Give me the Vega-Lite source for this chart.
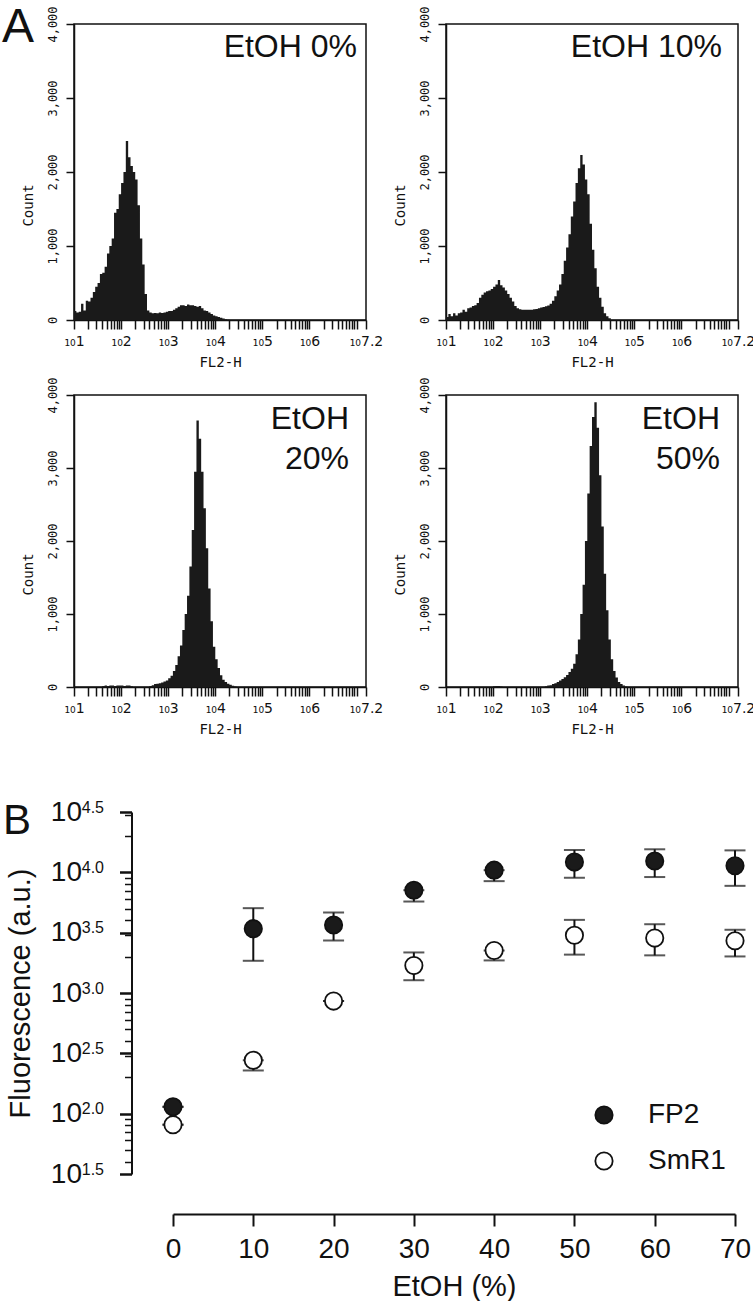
{
  "$schema": "https://vega.github.io/schema/vega-lite/v6.json",
  "padding": {"left": 1, "top": 3, "right": 0, "bottom": 0},
  "background": "white",
  "config": {
    "view": {"stroke": "#111", "strokeWidth": 1.5},
    "axis": {"grid": false, "labelColor": "#111", "titleColor": "#111", "tickColor": "#111", "domainColor": "#111", "titleFontWeight": "normal"},
    "text": {"color": "#111"}
  },
  "datasets": {
    "h0": [
      {"fl2h": 1.00, "count": 120}, {"fl2h": 1.05, "count": 100}, {"fl2h": 1.10, "count": 110}, {"fl2h": 1.15, "count": 220},
      {"fl2h": 1.20, "count": 130}, {"fl2h": 1.25, "count": 260}, {"fl2h": 1.30, "count": 250}, {"fl2h": 1.35, "count": 300},
      {"fl2h": 1.40, "count": 380}, {"fl2h": 1.45, "count": 450}, {"fl2h": 1.50, "count": 500}, {"fl2h": 1.55, "count": 620},
      {"fl2h": 1.60, "count": 640}, {"fl2h": 1.65, "count": 720}, {"fl2h": 1.70, "count": 900}, {"fl2h": 1.75, "count": 1000},
      {"fl2h": 1.80, "count": 1100}, {"fl2h": 1.85, "count": 1450}, {"fl2h": 1.90, "count": 1500}, {"fl2h": 1.95, "count": 1700},
      {"fl2h": 2.00, "count": 1850}, {"fl2h": 2.05, "count": 2000}, {"fl2h": 2.10, "count": 2420}, {"fl2h": 2.15, "count": 2200},
      {"fl2h": 2.20, "count": 2080}, {"fl2h": 2.25, "count": 2000}, {"fl2h": 2.30, "count": 1900}, {"fl2h": 2.35, "count": 1550},
      {"fl2h": 2.40, "count": 1100}, {"fl2h": 2.45, "count": 750}, {"fl2h": 2.50, "count": 350}, {"fl2h": 2.55, "count": 130},
      {"fl2h": 2.60, "count": 100}, {"fl2h": 2.65, "count": 90}, {"fl2h": 2.70, "count": 95}, {"fl2h": 2.75, "count": 90},
      {"fl2h": 2.80, "count": 100}, {"fl2h": 2.85, "count": 95}, {"fl2h": 2.90, "count": 100}, {"fl2h": 2.95, "count": 110},
      {"fl2h": 3.00, "count": 120}, {"fl2h": 3.05, "count": 120}, {"fl2h": 3.10, "count": 140}, {"fl2h": 3.15, "count": 160},
      {"fl2h": 3.20, "count": 180}, {"fl2h": 3.25, "count": 200}, {"fl2h": 3.30, "count": 200}, {"fl2h": 3.35, "count": 190},
      {"fl2h": 3.40, "count": 210}, {"fl2h": 3.45, "count": 200}, {"fl2h": 3.50, "count": 200}, {"fl2h": 3.55, "count": 190},
      {"fl2h": 3.60, "count": 180}, {"fl2h": 3.65, "count": 190}, {"fl2h": 3.70, "count": 160}, {"fl2h": 3.75, "count": 130},
      {"fl2h": 3.80, "count": 120}, {"fl2h": 3.85, "count": 100}, {"fl2h": 3.90, "count": 80}, {"fl2h": 3.95, "count": 60},
      {"fl2h": 4.00, "count": 50}, {"fl2h": 4.05, "count": 40}, {"fl2h": 4.10, "count": 30}, {"fl2h": 4.15, "count": 20},
      {"fl2h": 4.20, "count": 10}, {"fl2h": 4.25, "count": 5}, {"fl2h": 4.30, "count": 0}, {"fl2h": 7.20, "count": 0}
    ],
    "h10": [
      {"fl2h": 1.00, "count": 40}, {"fl2h": 1.05, "count": 80}, {"fl2h": 1.10, "count": 50}, {"fl2h": 1.15, "count": 90},
      {"fl2h": 1.20, "count": 60}, {"fl2h": 1.25, "count": 90}, {"fl2h": 1.30, "count": 100}, {"fl2h": 1.35, "count": 140},
      {"fl2h": 1.40, "count": 110}, {"fl2h": 1.45, "count": 160}, {"fl2h": 1.50, "count": 170}, {"fl2h": 1.55, "count": 190},
      {"fl2h": 1.60, "count": 200}, {"fl2h": 1.65, "count": 230}, {"fl2h": 1.70, "count": 300}, {"fl2h": 1.75, "count": 340},
      {"fl2h": 1.80, "count": 370}, {"fl2h": 1.85, "count": 390}, {"fl2h": 1.90, "count": 400}, {"fl2h": 1.95, "count": 420},
      {"fl2h": 2.00, "count": 450}, {"fl2h": 2.05, "count": 480}, {"fl2h": 2.10, "count": 540}, {"fl2h": 2.15, "count": 470},
      {"fl2h": 2.20, "count": 440}, {"fl2h": 2.25, "count": 400}, {"fl2h": 2.30, "count": 350}, {"fl2h": 2.35, "count": 300},
      {"fl2h": 2.40, "count": 250}, {"fl2h": 2.45, "count": 190}, {"fl2h": 2.50, "count": 160}, {"fl2h": 2.55, "count": 145},
      {"fl2h": 2.60, "count": 140}, {"fl2h": 2.65, "count": 140}, {"fl2h": 2.70, "count": 140}, {"fl2h": 2.75, "count": 140},
      {"fl2h": 2.80, "count": 140}, {"fl2h": 2.85, "count": 145}, {"fl2h": 2.90, "count": 150}, {"fl2h": 2.95, "count": 160},
      {"fl2h": 3.00, "count": 170}, {"fl2h": 3.05, "count": 175}, {"fl2h": 3.10, "count": 185}, {"fl2h": 3.15, "count": 195},
      {"fl2h": 3.20, "count": 220}, {"fl2h": 3.25, "count": 260}, {"fl2h": 3.30, "count": 320}, {"fl2h": 3.35, "count": 400},
      {"fl2h": 3.40, "count": 480}, {"fl2h": 3.45, "count": 620}, {"fl2h": 3.50, "count": 800}, {"fl2h": 3.55, "count": 980},
      {"fl2h": 3.60, "count": 1160}, {"fl2h": 3.65, "count": 1400}, {"fl2h": 3.70, "count": 1600}, {"fl2h": 3.75, "count": 1850},
      {"fl2h": 3.80, "count": 2050}, {"fl2h": 3.85, "count": 2230}, {"fl2h": 3.90, "count": 2100}, {"fl2h": 3.95, "count": 1900},
      {"fl2h": 4.00, "count": 1700}, {"fl2h": 4.05, "count": 1300}, {"fl2h": 4.10, "count": 950}, {"fl2h": 4.15, "count": 700},
      {"fl2h": 4.20, "count": 450}, {"fl2h": 4.25, "count": 300}, {"fl2h": 4.30, "count": 180}, {"fl2h": 4.35, "count": 90},
      {"fl2h": 4.40, "count": 50}, {"fl2h": 4.45, "count": 25}, {"fl2h": 4.50, "count": 0}, {"fl2h": 7.20, "count": 0}
    ],
    "h20": [
      {"fl2h": 1.00, "count": 0}, {"fl2h": 1.60, "count": 15}, {"fl2h": 1.65, "count": 20}, {"fl2h": 1.70, "count": 15},
      {"fl2h": 1.75, "count": 20}, {"fl2h": 1.80, "count": 20}, {"fl2h": 1.85, "count": 15}, {"fl2h": 1.90, "count": 20},
      {"fl2h": 1.95, "count": 20}, {"fl2h": 2.00, "count": 20}, {"fl2h": 2.05, "count": 15}, {"fl2h": 2.10, "count": 20},
      {"fl2h": 2.15, "count": 20}, {"fl2h": 2.20, "count": 10}, {"fl2h": 2.25, "count": 0}, {"fl2h": 2.60, "count": 15},
      {"fl2h": 2.65, "count": 25}, {"fl2h": 2.70, "count": 40}, {"fl2h": 2.75, "count": 45}, {"fl2h": 2.80, "count": 50},
      {"fl2h": 2.85, "count": 60}, {"fl2h": 2.90, "count": 75}, {"fl2h": 2.95, "count": 90}, {"fl2h": 3.00, "count": 120},
      {"fl2h": 3.05, "count": 155}, {"fl2h": 3.10, "count": 220}, {"fl2h": 3.15, "count": 300}, {"fl2h": 3.20, "count": 420},
      {"fl2h": 3.25, "count": 570}, {"fl2h": 3.30, "count": 780}, {"fl2h": 3.35, "count": 1000}, {"fl2h": 3.40, "count": 1250},
      {"fl2h": 3.45, "count": 1650}, {"fl2h": 3.50, "count": 2150}, {"fl2h": 3.55, "count": 2950}, {"fl2h": 3.60, "count": 3650},
      {"fl2h": 3.65, "count": 3400}, {"fl2h": 3.70, "count": 2950}, {"fl2h": 3.75, "count": 2450}, {"fl2h": 3.80, "count": 1900},
      {"fl2h": 3.85, "count": 1350}, {"fl2h": 3.90, "count": 900}, {"fl2h": 3.95, "count": 550}, {"fl2h": 4.00, "count": 380},
      {"fl2h": 4.05, "count": 260}, {"fl2h": 4.10, "count": 160}, {"fl2h": 4.15, "count": 100}, {"fl2h": 4.20, "count": 70},
      {"fl2h": 4.25, "count": 45}, {"fl2h": 4.30, "count": 30}, {"fl2h": 4.35, "count": 18}, {"fl2h": 4.40, "count": 8},
      {"fl2h": 4.45, "count": 0}, {"fl2h": 7.20, "count": 0}
    ],
    "h50": [
      {"fl2h": 1.00, "count": 0}, {"fl2h": 2.00, "count": 10}, {"fl2h": 2.05, "count": 15}, {"fl2h": 2.10, "count": 12},
      {"fl2h": 2.15, "count": 8}, {"fl2h": 2.20, "count": 0}, {"fl2h": 3.10, "count": 10}, {"fl2h": 3.15, "count": 20},
      {"fl2h": 3.20, "count": 25}, {"fl2h": 3.25, "count": 40}, {"fl2h": 3.30, "count": 50}, {"fl2h": 3.35, "count": 70},
      {"fl2h": 3.40, "count": 90}, {"fl2h": 3.45, "count": 110}, {"fl2h": 3.50, "count": 135}, {"fl2h": 3.55, "count": 165},
      {"fl2h": 3.60, "count": 205}, {"fl2h": 3.65, "count": 250}, {"fl2h": 3.70, "count": 320}, {"fl2h": 3.75, "count": 450},
      {"fl2h": 3.80, "count": 650}, {"fl2h": 3.85, "count": 1000}, {"fl2h": 3.90, "count": 1400}, {"fl2h": 3.95, "count": 2000},
      {"fl2h": 4.00, "count": 2650}, {"fl2h": 4.05, "count": 3300}, {"fl2h": 4.10, "count": 3700}, {"fl2h": 4.15, "count": 3900},
      {"fl2h": 4.20, "count": 3550}, {"fl2h": 4.25, "count": 2900}, {"fl2h": 4.30, "count": 2200}, {"fl2h": 4.35, "count": 1550},
      {"fl2h": 4.40, "count": 1050}, {"fl2h": 4.45, "count": 650}, {"fl2h": 4.50, "count": 380}, {"fl2h": 4.55, "count": 220},
      {"fl2h": 4.60, "count": 130}, {"fl2h": 4.65, "count": 70}, {"fl2h": 4.70, "count": 40}, {"fl2h": 4.75, "count": 20},
      {"fl2h": 4.80, "count": 8}, {"fl2h": 4.85, "count": 0}, {"fl2h": 7.20, "count": 0}
    ],
    "fluor": [
      {"etoh": 0, "series": "FP2", "mean": 114, "lo": 114, "hi": 114},
      {"etoh": 10, "series": "FP2", "mean": 3412, "lo": 1849, "hi": 5047},
      {"etoh": 20, "series": "FP2", "mean": 3664, "lo": 2729, "hi": 4645},
      {"etoh": 30, "series": "FP2", "mean": 7112, "lo": 5728, "hi": 7112},
      {"etoh": 40, "series": "FP2", "mean": 10423, "lo": 8453, "hi": 10423},
      {"etoh": 50, "series": "FP2", "mean": 12162, "lo": 9016, "hi": 15311},
      {"etoh": 60, "series": "FP2", "mean": 12417, "lo": 9141, "hi": 15524},
      {"etoh": 70, "series": "FP2", "mean": 11350, "lo": 7727, "hi": 15205},
      {"etoh": 0, "series": "SmR1", "mean": 81, "lo": 81, "hi": 81},
      {"etoh": 10, "series": "SmR1", "mean": 277, "lo": 228, "hi": 277},
      {"etoh": 20, "series": "SmR1", "mean": 857, "lo": 857, "hi": 857},
      {"etoh": 30, "series": "SmR1", "mean": 1687, "lo": 1276, "hi": 2168},
      {"etoh": 40, "series": "SmR1", "mean": 2249, "lo": 1862, "hi": 2249},
      {"etoh": 50, "series": "SmR1", "mean": 3013, "lo": 2080, "hi": 4036},
      {"etoh": 60, "series": "SmR1", "mean": 2851, "lo": 2051, "hi": 3715},
      {"etoh": 70, "series": "SmR1", "mean": 2710, "lo": 2009, "hi": 3342}
    ]
  },
  "columns": 2,
  "bounds": "flush",
  "align": "each",
  "spacing": {"row": 75, "column": 80},
  "resolve": {"scale": {"fill": "independent"}, "legend": {"fill": "independent"}},
  "concat": [
    {
      "width": 292, "height": 296,
      "resolve": {"axis": {"x": "independent"}},
      "layer": [
        {
          "data": {"name": "h0"},
          "mark": {"type": "area", "interpolate": "step-after", "color": "#1a1a1a"},
          "encoding": {
            "x": {"field": "fl2h", "type": "quantitative", "scale": {"domain": [1, 7.2], "nice": false, "zero": false},
              "axis": {"orient": "bottom", "values": [1, 2, 3, 4, 5, 6, 7.2], "labelExpr": "'₁₀' + datum.value",
                "labelOverlap": false, "labelFlush": false, "labelFont": "DejaVu Sans", "labelFontSize": 14, "labelBaseline": "alphabetic", "labelPadding": 16,
                "tickSize": 9, "tickWidth": 1.5, "domainWidth": 1.5,
                "title": "FL2-H", "titleFont": "DejaVu Sans Mono", "titleFontSize": 14, "titleY": 42, "titleBaseline": "middle"}},
            "y": {"field": "count", "type": "quantitative", "scale": {"domain": [0, 4000], "nice": false},
              "axis": {"values": [0, 1000, 2000, 3000, 4000], "labelExpr": "format(datum.value, ',')", "labelAngle": 270, "labelAlign": "center", "labelBaseline": "bottom", "labelPadding": 7,
                "labelFont": "DejaVu Sans Mono", "labelFontSize": 12, "labelFlush": false, "labelOverlap": false, "tickSize": 8, "tickWidth": 1.5, "domainWidth": 1.5,
                "title": "Count", "titleFont": "DejaVu Sans Mono", "titleFontSize": 14, "titleAngle": 270, "titleX": -46, "titleY": 181, "titleBaseline": "middle"}}
          }
        },
        {
          "data": {"values": [{"label": "EtOH 0%"}]},
          "mark": {"type": "text", "align": "right", "baseline": "alphabetic", "dx": -9, "dy": 33, "font": "Liberation Sans", "fontSize": 32},
          "encoding": {"text": {"field": "label"},
            "x": {"datum": 7.2, "axis": {"orient": "bottom", "values": [1.301,1.477,1.602,1.699,1.778,1.845,1.903,1.954,2.301,2.477,2.602,2.699,2.778,2.845,2.903,2.954,3.301,3.477,3.602,3.699,3.778,3.845,3.903,3.954,4.301,4.477,4.602,4.699,4.778,4.845,4.903,4.954,5.301,5.477,5.602,5.699,5.778,5.845,5.903,5.954,6.301,6.477,6.602,6.699,6.778,6.845,6.903,6.954,7],
              "labels": false, "domain": false, "title": null, "tickSize": 9, "tickWidth": 1.5}},
            "y": {"datum": 4000}}
        },
        {
          "data": {"values": [{"panel": "A"}]},
          "mark": {"type": "text", "align": "left", "baseline": "alphabetic", "dx": -72, "dy": 18, "font": "Liberation Sans", "fontSize": 48},
          "encoding": {"text": {"field": "panel"}, "x": {"datum": 1, "axis": null}, "y": {"datum": 4000}}
        }
      ]
    },
    {
      "width": 292, "height": 296,
      "resolve": {"axis": {"x": "independent"}},
      "layer": [
        {
          "data": {"name": "h10"},
          "mark": {"type": "area", "interpolate": "step-after", "color": "#1a1a1a"},
          "encoding": {
            "x": {"field": "fl2h", "type": "quantitative", "scale": {"domain": [1, 7.2], "nice": false, "zero": false},
              "axis": {"orient": "bottom", "values": [1, 2, 3, 4, 5, 6, 7.2], "labelExpr": "'₁₀' + datum.value",
                "labelOverlap": false, "labelFlush": false, "labelFont": "DejaVu Sans", "labelFontSize": 14, "labelBaseline": "alphabetic", "labelPadding": 16,
                "tickSize": 9, "tickWidth": 1.5, "domainWidth": 1.5,
                "title": "FL2-H", "titleFont": "DejaVu Sans Mono", "titleFontSize": 14, "titleY": 42, "titleBaseline": "middle"}},
            "y": {"field": "count", "type": "quantitative", "scale": {"domain": [0, 4000], "nice": false},
              "axis": {"values": [0, 1000, 2000, 3000, 4000], "labelExpr": "format(datum.value, ',')", "labelAngle": 270, "labelAlign": "center", "labelBaseline": "bottom", "labelPadding": 7,
                "labelFont": "DejaVu Sans Mono", "labelFontSize": 12, "labelFlush": false, "labelOverlap": false, "tickSize": 8, "tickWidth": 1.5, "domainWidth": 1.5,
                "title": "Count", "titleFont": "DejaVu Sans Mono", "titleFontSize": 14, "titleAngle": 270, "titleX": -46, "titleY": 181, "titleBaseline": "middle"}}
          }
        },
        {
          "data": {"values": [{"label": "EtOH 10%"}]},
          "mark": {"type": "text", "align": "right", "baseline": "alphabetic", "dx": -16, "dy": 33, "font": "Liberation Sans", "fontSize": 32},
          "encoding": {"text": {"field": "label"},
            "x": {"datum": 7.2, "axis": {"orient": "bottom", "values": [1.301,1.477,1.602,1.699,1.778,1.845,1.903,1.954,2.301,2.477,2.602,2.699,2.778,2.845,2.903,2.954,3.301,3.477,3.602,3.699,3.778,3.845,3.903,3.954,4.301,4.477,4.602,4.699,4.778,4.845,4.903,4.954,5.301,5.477,5.602,5.699,5.778,5.845,5.903,5.954,6.301,6.477,6.602,6.699,6.778,6.845,6.903,6.954,7],
              "labels": false, "domain": false, "title": null, "tickSize": 9, "tickWidth": 1.5}},
            "y": {"datum": 4000}}
        }
      ]
    },
    {
      "width": 292, "height": 292,
      "resolve": {"axis": {"x": "independent"}},
      "layer": [
        {
          "data": {"name": "h20"},
          "mark": {"type": "area", "interpolate": "step-after", "color": "#1a1a1a"},
          "encoding": {
            "x": {"field": "fl2h", "type": "quantitative", "scale": {"domain": [1, 7.2], "nice": false, "zero": false},
              "axis": {"orient": "bottom", "values": [1, 2, 3, 4, 5, 6, 7.2], "labelExpr": "'₁₀' + datum.value",
                "labelOverlap": false, "labelFlush": false, "labelFont": "DejaVu Sans", "labelFontSize": 14, "labelBaseline": "alphabetic", "labelPadding": 16,
                "tickSize": 9, "tickWidth": 1.5, "domainWidth": 1.5,
                "title": "FL2-H", "titleFont": "DejaVu Sans Mono", "titleFontSize": 14, "titleY": 42, "titleBaseline": "middle"}},
            "y": {"field": "count", "type": "quantitative", "scale": {"domain": [0, 4000], "nice": false},
              "axis": {"values": [0, 1000, 2000, 3000, 4000], "labelExpr": "format(datum.value, ',')", "labelAngle": 270, "labelAlign": "center", "labelBaseline": "bottom", "labelPadding": 7,
                "labelFont": "DejaVu Sans Mono", "labelFontSize": 12, "labelFlush": false, "labelOverlap": false, "tickSize": 8, "tickWidth": 1.5, "domainWidth": 1.5,
                "title": "Count", "titleFont": "DejaVu Sans Mono", "titleFontSize": 14, "titleAngle": 270, "titleX": -46, "titleY": 179, "titleBaseline": "middle"}}
          }
        },
        {
          "data": {"values": [{"label": ["EtOH", "20%"]}]},
          "mark": {"type": "text", "align": "right", "baseline": "alphabetic", "dx": -17, "dy": 34, "lineHeight": 40, "font": "Liberation Sans", "fontSize": 32},
          "encoding": {"text": {"field": "label"},
            "x": {"datum": 7.2, "axis": {"orient": "bottom", "values": [1.301,1.477,1.602,1.699,1.778,1.845,1.903,1.954,2.301,2.477,2.602,2.699,2.778,2.845,2.903,2.954,3.301,3.477,3.602,3.699,3.778,3.845,3.903,3.954,4.301,4.477,4.602,4.699,4.778,4.845,4.903,4.954,5.301,5.477,5.602,5.699,5.778,5.845,5.903,5.954,6.301,6.477,6.602,6.699,6.778,6.845,6.903,6.954,7],
              "labels": false, "domain": false, "title": null, "tickSize": 9, "tickWidth": 1.5}},
            "y": {"datum": 4000}}
        }
      ]
    },
    {
      "width": 292, "height": 292,
      "resolve": {"axis": {"x": "independent"}},
      "layer": [
        {
          "data": {"name": "h50"},
          "mark": {"type": "area", "interpolate": "step-after", "color": "#1a1a1a"},
          "encoding": {
            "x": {"field": "fl2h", "type": "quantitative", "scale": {"domain": [1, 7.2], "nice": false, "zero": false},
              "axis": {"orient": "bottom", "values": [1, 2, 3, 4, 5, 6, 7.2], "labelExpr": "'₁₀' + datum.value",
                "labelOverlap": false, "labelFlush": false, "labelFont": "DejaVu Sans", "labelFontSize": 14, "labelBaseline": "alphabetic", "labelPadding": 16,
                "tickSize": 9, "tickWidth": 1.5, "domainWidth": 1.5,
                "title": "FL2-H", "titleFont": "DejaVu Sans Mono", "titleFontSize": 14, "titleY": 42, "titleBaseline": "middle"}},
            "y": {"field": "count", "type": "quantitative", "scale": {"domain": [0, 4000], "nice": false},
              "axis": {"values": [0, 1000, 2000, 3000, 4000], "labelExpr": "format(datum.value, ',')", "labelAngle": 270, "labelAlign": "center", "labelBaseline": "bottom", "labelPadding": 7,
                "labelFont": "DejaVu Sans Mono", "labelFontSize": 12, "labelFlush": false, "labelOverlap": false, "tickSize": 8, "tickWidth": 1.5, "domainWidth": 1.5,
                "title": "Count", "titleFont": "DejaVu Sans Mono", "titleFontSize": 14, "titleAngle": 270, "titleX": -46, "titleY": 179, "titleBaseline": "middle"}}
          }
        },
        {
          "data": {"values": [{"label": ["EtOH", "50%"]}]},
          "mark": {"type": "text", "align": "right", "baseline": "alphabetic", "dx": -18, "dy": 34, "lineHeight": 40, "font": "Liberation Sans", "fontSize": 32},
          "encoding": {"text": {"field": "label"},
            "x": {"datum": 7.2, "axis": {"orient": "bottom", "values": [1.301,1.477,1.602,1.699,1.778,1.845,1.903,1.954,2.301,2.477,2.602,2.699,2.778,2.845,2.903,2.954,3.301,3.477,3.602,3.699,3.778,3.845,3.903,3.954,4.301,4.477,4.602,4.699,4.778,4.845,4.903,4.954,5.301,5.477,5.602,5.699,5.778,5.845,5.903,5.954,6.301,6.477,6.602,6.699,6.778,6.845,6.903,6.954,7],
              "labels": false, "domain": false, "title": null, "tickSize": 9, "tickWidth": 1.5}},
            "y": {"datum": 4000}}
        }
      ]
    },
    {
      "width": 292, "height": 412,
      "view": {"stroke": null},
      "data": {"name": "fluor"},
      "resolve": {"axis": {"y": "independent"}},
      "layer": [
        {
          "mark": {"type": "rule", "color": "#111", "strokeWidth": 2},
          "encoding": {
            "x": {"field": "etoh", "type": "quantitative", "scale": {"domain": [0, 70], "nice": false, "zero": false, "range": [99, 661]},
              "axis": {"values": [0, 10, 20, 30, 40, 50, 60, 70], "offset": 40, "tickSize": 12, "tickWidth": 2, "domainWidth": 2,
                "labelFont": "Liberation Sans", "labelFontSize": 28, "labelBaseline": "alphabetic", "labelPadding": 31, "labelFlush": false, "labelOverlap": false,
                "title": "EtOH (%)", "titleFont": "Liberation Sans", "titleFontSize": 29, "titleBaseline": "alphabetic", "titleY": 81}},
            "y": {"field": "lo", "type": "quantitative", "scale": {"type": "log", "domain": [31.6228, 31622.8], "nice": false, "range": [412, 50]},
              "axis": {"orient": "left", "offset": -57.5, "values": [31.6228, 100, 316.228, 1000, 3162.28, 10000, 31622.8], "labelExpr": "'10'",
                "labelFont": "Liberation Sans", "labelFontSize": 28, "labelBaseline": "middle", "labelPadding": 38, "labelFlush": false, "labelOverlap": false,
                "tickSize": 12, "tickWidth": 2, "domainWidth": 2,
                "title": "Fluorescence (a.u.)", "titleFont": "Liberation Sans", "titleFontSize": 29, "titleAngle": 270, "titleX": -111, "titleBaseline": "middle"}},
            "y2": {"field": "hi"}
          }
        },
        {
          "mark": {"type": "tick", "orient": "horizontal", "color": "#111", "size": 21, "thickness": 2},
          "encoding": {
            "x": {"field": "etoh", "type": "quantitative"},
            "y": {"field": "lo", "type": "quantitative",
              "axis": {"orient": "left", "offset": -57.5, "values": [31.6228, 100, 316.228, 1000, 3162.28, 10000, 31622.8], "labelExpr": "format(log(datum.value)/LN10, '.1f')",
                "labelFont": "Liberation Sans", "labelFontSize": 16, "labelBaseline": "middle", "labelOffset": -5, "labelPadding": 16, "labelFlush": false, "labelOverlap": false,
                "tickSize": 12, "tickWidth": 2, "domain": false, "title": null}}
          }
        },
        {
          "mark": {"type": "tick", "orient": "horizontal", "color": "#111", "size": 21, "thickness": 2},
          "encoding": {
            "x": {"field": "etoh", "type": "quantitative"},
            "y": {"field": "hi", "type": "quantitative",
              "axis": {"orient": "left", "offset": -57.5, "values": [40,50,60,70,80,90,200,300,400,500,600,700,800,900,2000,3000,4000,5000,6000,7000,8000,9000,20000,30000],
                "labels": false, "tickSize": 7, "tickWidth": 1.5, "domain": false, "title": null}}
          }
        },
        {
          "mark": {"type": "point", "shape": "circle", "filled": false, "size": 300, "stroke": "#111", "strokeWidth": 1.8, "opacity": 1},
          "encoding": {
            "x": {"field": "etoh", "type": "quantitative"},
            "y": {"field": "mean", "type": "quantitative", "axis": null},
            "fill": {"field": "series", "type": "nominal", "scale": {"domain": ["FP2", "SmR1"], "range": ["#1a1a1a", "#ffffff"]},
              "legend": {"orient": "none", "legendX": 516, "legendY": 339, "title": null, "padding": 0, "labelFont": "Liberation Sans", "labelFontSize": 28, "labelColor": "#111",
                "symbolType": "circle", "symbolSize": 300, "symbolStrokeColor": "#111", "symbolStrokeWidth": 1.8, "symbolOpacity": 1, "labelOffset": 30, "rowPadding": 18}},
            "fillOpacity": {"value": 1}
          }
        },
        {
          "data": {"values": [{"panel": "B"}]},
          "mark": {"type": "text", "align": "left", "baseline": "alphabetic", "dx": -170, "dy": 22, "font": "Liberation Sans", "fontSize": 42},
          "encoding": {"text": {"field": "panel"}, "x": {"datum": 0}, "y": {"datum": 31622.8, "axis": null}}
        }
      ]
    }
  ]
}
